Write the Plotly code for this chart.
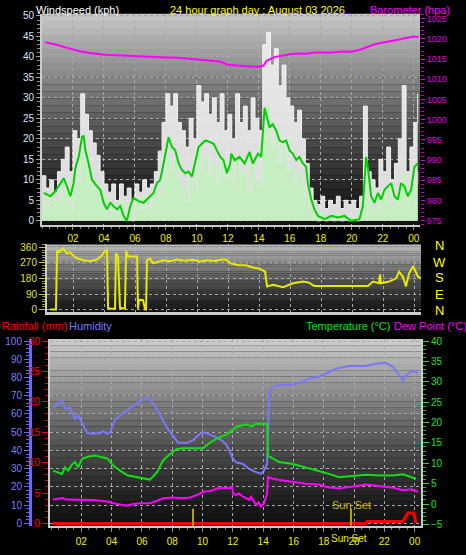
import plotly.graph_objects as go

FONT = "Liberation Sans, Arial, sans-serif"
W, H = 466, 555

# ---------------- data ----------------
hour_ticks = [2, 4, 6, 8, 10, 12, 14, 16, 18, 20, 22, 24]
hour_labels = ["02", "04", "06", "08", "10", "12", "14", "16", "18", "20", "22", "00"]

wind_t = [i * 0.25 for i in range(98)]  # sample times (hours)
gust_kph = [11, 8, 10, 7, 12, 15, 18, 12,
            22, 20, 31, 26, 22, 19, 16, 12,
            9, 7, 9, 5, 9, 6, 8, 5,
            9, 7, 10, 8, 9, 12, 17, 24,
            31, 28, 31, 24, 22, 18, 25, 20,
            33, 29, 31, 26, 30, 24, 31, 22,
            26, 20, 31, 24, 28, 22, 30, 25,
            22, 43, 46, 38, 42, 33, 38, 30,
            28, 24, 27, 20, 14, 8, 5, 4,
            6, 3, 5, 4, 6, 3, 5, 4,
            5, 3, 6, 28, 12, 10, 8, 15,
            12, 18, 10, 14, 20, 33, 12, 18,
            24, 31]
speed_kph = [6, 3, 7, 4, 5, 9, 7, 2,
             12, 9, 17, 14, 12, 8, 9, 5,
             6, 1, 4, 2, 5, 1, 4, 0,
             5, 3, 6, 3, 5, 7, 6, 10,
             15, 12, 15, 10, 8, 5, 10, 7,
             17, 12, 16, 11, 14, 9, 15, 10,
             13, 8, 15, 11, 12, 7, 14, 10,
             8, 20, 28, 18, 20, 14, 18, 12,
             13, 9, 12, 8, 6, 3, 1, 0,
             2, 0, 1, 0, 2, 0, 1, 0,
             1, 0, 2, 10, 5, 3, 2, 6,
             5, 8, 3, 6, 8, 11, 4, 7,
             9, 12]

avg_t = [0.11, 0.54, 0.86, 1.18, 1.40, 1.61, 1.83, 2.04, 2.15, 2.37, 2.58, 2.69, 2.80, 3.01,
         3.23, 3.55, 3.76, 3.98, 4.19, 4.41, 4.62, 4.84, 5.05, 5.27, 5.48, 5.70, 5.91, 6.24,
         6.56, 6.88, 7.20, 7.42, 7.63, 7.85, 8.06, 8.17, 8.39, 8.60, 8.82, 9.03, 9.25, 9.46,
         9.68, 9.89, 10.11, 10.32, 10.54, 10.86, 11.08, 11.29, 11.51, 11.72, 11.94, 12.15,
         12.22, 12.43, 12.75, 13.08, 13.40, 13.61, 13.94, 14.15, 14.37, 14.47, 14.69, 14.90,
         15.12, 15.33, 15.55, 15.76, 15.98, 16.19, 16.41, 16.62, 16.84, 17.05, 17.16, 17.38,
         17.59, 17.81, 18.24, 18.67, 19.10, 19.53, 19.96, 20.49, 20.71, 20.92, 21.03, 21.25,
         21.46, 21.68, 21.89, 22.11, 22.32, 22.54, 22.75, 22.97, 23.18, 23.40, 23.61, 23.83,
         24.04, 24.26]
avg_kph = [6.8, 6.0, 7.2, 9.2, 10.4, 8.4, 6.0, 9.2, 12.8, 15.6, 20.4, 20.8, 17.2, 14.0,
           10.0, 8.4, 7.6, 4.4, 2.8, 4.4, 3.6, 2.8, 3.6, 1.2, 0.0, 3.6, 5.6, 4.8,
           4.4, 5.6, 6.8, 9.2, 10.0, 14.0, 18.8, 20.4, 18.0, 17.2, 14.0, 12.4, 11.6, 12.0,
           10.8, 14.0, 18.0, 18.8, 19.6, 19.2, 18.8, 17.2, 15.6, 14.8, 11.6, 14.0,
           16.4, 14.8, 15.6, 14.0, 16.8, 14.0, 16.4, 15.6, 27.6, 26.0, 22.8, 23.6,
           22.0, 19.6, 19.2, 19.6, 17.2, 16.4, 14.8, 15.6, 14.0, 13.2, 9.2, 5.2,
           2.8, 1.2, 0.4, 1.2, 0.8, 1.2, 0.0, 0.4, 3.6, 15.6, 13.2, 6.0,
           4.4, 6.8, 5.2, 7.6, 8.4, 9.2, 6.0, 5.2, 9.2, 8.4, 6.0, 7.6,
           13.2, 14.0]

baro_t = [0.2, 0.5, 1.0, 1.5, 2.0, 2.5, 3.0, 3.5, 4.0, 4.5, 5.0, 5.5, 6.0, 6.5, 7.0, 7.5,
          8.0, 8.5, 9.0, 9.5, 10.0, 10.5, 11.0, 11.5, 12.0, 12.5, 13.0, 13.5, 14.0, 14.3,
          14.5, 15.0, 15.5, 16.0, 16.5, 17.0, 17.5, 18.0, 18.5, 19.0, 19.5, 20.0, 20.5,
          21.0, 21.5, 22.0, 22.5, 23.0, 23.5, 24.0, 24.3]
baro_hpa = [1019.2, 1019.0, 1018.5, 1017.9, 1017.4, 1016.9, 1016.6, 1016.3, 1016.1, 1016.0,
            1015.9, 1015.8, 1015.7, 1015.6, 1015.5, 1015.5, 1015.4, 1015.4, 1015.3, 1015.1,
            1014.9, 1014.7, 1014.6, 1014.4, 1013.6, 1013.4, 1013.3, 1013.2, 1013.1, 1013.4,
            1014.6, 1015.5, 1015.9, 1016.2, 1016.4, 1016.3, 1016.6, 1016.7, 1016.6, 1016.8,
            1016.9, 1016.8, 1017.3, 1018.0, 1018.7, 1019.1, 1019.4, 1019.8, 1020.2, 1020.6,
            1020.4]

dir_t = [0.52, 0.90, 0.97, 1.10, 1.35, 1.60, 1.80, 2.00, 2.26, 2.65, 3.10, 3.55, 3.87, 4.06,
         4.19, 4.26, 4.39, 4.71, 4.77, 4.90, 5.03, 5.35, 5.42, 5.55, 6.13, 6.19, 6.26, 6.52,
         6.65, 6.71, 6.77, 6.97, 7.16, 7.42, 7.80, 8.26, 8.70, 9.20, 9.74, 10.20, 10.70,
         11.16, 11.60, 11.87, 12.19, 12.70, 13.16, 13.60, 14.00, 14.39, 14.52, 14.90, 15.55,
         16.19, 16.84, 17.23, 17.55, 21.03, 21.35, 21.74, 21.81, 21.87, 22.39, 22.84, 23.03,
         23.29, 23.48, 23.68, 23.94, 24.26, 24.45]
dir_deg = [0, 0, 343, 333, 354, 326, 333, 314, 297, 286, 280, 290, 314, 339,
           343, 10, 5, 5, 326, 305, 10, 5, 339, 308, 308, 5, 57, 54,
           0, 0, 286, 297, 269, 274, 286, 280, 290, 283, 288, 278, 286,
           282, 290, 290, 267, 257, 257, 244, 238, 219, 133, 143, 130,
           152, 162, 156, 137, 137, 162, 152, 204, 152, 162, 181, 219,
           190, 133, 210, 251, 190, 181]

hum_t = [0.13, 0.46, 0.73, 0.92, 1.12, 1.25, 1.45, 1.58, 1.78, 2.05, 2.38, 2.77, 3.23, 3.43,
         3.70, 3.89, 4.22, 4.75, 5.35, 5.87, 6.40, 6.73, 7.19, 7.66, 8.05, 8.38, 8.98, 9.37,
         9.83, 10.17, 10.69, 11.16, 11.55, 11.75, 11.95, 12.21, 12.67, 13.07, 13.53, 13.86,
         14.06, 14.26, 14.32, 14.39, 14.52, 14.85, 15.97, 16.63, 17.03, 17.69, 18.15, 18.81,
         19.67, 20.79, 21.45, 22.11, 22.57, 22.90, 23.23, 23.43, 23.76, 24.09, 24.22]
hum_pct = [63.2, 66.0, 66.9, 63.0, 63.0, 63.5, 59.6, 56.9, 59.6, 55.0, 49.7, 49.2, 49.5, 50.5,
           49.2, 49.7, 56.9, 60.5, 64.1, 66.9, 69.0, 66.0, 59.6, 52.4, 48.0, 44.3, 44.3, 45.6,
           49.2, 49.7, 48.0, 46.1, 43.4, 40.5, 36.2, 33.5, 32.6, 29.9, 28.1, 27.2,
           29.0, 32.6, 48.8, 70.4, 74.0, 75.8, 76.2, 77.7, 79.5, 80.4, 82.2, 84.9,
           86.3, 86.3, 87.6, 88.1, 85.8, 82.2, 78.5, 81.2, 83.4, 83.0, 82.2]

temp_t = [0.13, 0.46, 0.73, 0.92, 1.12, 1.39, 1.58, 1.78, 2.05, 2.44, 2.90, 3.37, 3.76, 4.09,
          4.55, 5.08, 5.68, 6.07, 6.53, 7.00, 7.39, 7.85, 8.32, 8.71, 10.03, 10.50, 10.96,
          11.62, 12.21, 12.87, 13.27, 13.53, 14.26, 14.32, 14.65, 15.05, 15.97, 16.83, 17.69,
          18.35, 19.01, 19.93, 20.79, 21.65, 22.57, 23.23, 23.76, 24.09]
temp_c = [8.2, 7.8, 7.4, 9.0, 8.2, 9.7, 10.3, 9.0, 11.1, 11.6, 11.9, 11.5, 11.1, 9.5,
          8.2, 7.0, 6.6, 6.2, 6.0, 7.8, 10.7, 12.3, 13.5, 13.7, 13.7, 15.1, 16.1,
          17.1, 18.9, 19.5, 19.1, 19.7, 19.7, 11.9, 11.1, 10.3, 9.8, 9.0, 8.2,
          7.4, 6.6, 7.0, 7.2, 7.0, 7.0, 7.3, 6.6, 6.2]

dew_t = [0.13, 0.79, 0.99, 1.91, 2.77, 3.70, 4.36, 5.02, 5.41, 5.87, 6.53, 7.00, 7.39, 8.05,
         8.71, 9.17, 9.64, 10.03, 10.50, 10.96, 11.42, 11.82, 11.95, 12.01, 12.21, 12.40,
         12.67, 12.90, 13.07, 13.20, 13.40, 13.53, 13.70, 13.86, 14.06, 14.26, 14.32, 14.65,
         15.31, 15.97, 16.83, 17.69, 18.15, 19.01, 19.93, 20.79, 21.65, 22.57, 23.23, 23.76,
         24.22]
dew_c = [1.1, 1.5, 1.1, 1.1, 1.0, 0.6, 0.0, -0.4, 0.0, 0.2, 0.2, 0.8, 1.4, 1.6,
         1.4, 1.6, 2.2, 3.0, 3.2, 3.8, 4.0, 3.9, 4.4, 2.6, 2.2, 2.6,
         1.8, 1.4, 1.0, 1.8, 0.4, -0.2, 0.4, -0.6, 0.2, 2.6, 6.6, 6.2,
         5.8, 5.4, 5.0, 4.8, 4.2, 3.8, 4.4, 4.8, 4.4, 4.0, 3.4, 3.6,
         3.0]

rain_t = [0.1, 20.79, 20.85, 23.23, 23.55, 23.95, 24.1]
rain_mm = [0.0, 0.0, 0.3, 0.3, 1.7, 1.7, 0.0]

sun_marks_t = [9.37, 19.8]
sunset_t = 19.8

# ---------------- helpers ----------------
def fx(px):
    return px / W


def fy(py):
    return 1 - py / H


def bands(xref, yref, top, bottom, n=30, gamma=1.25):
    out = []
    for i in range(n):
        f = (i + 0.5) / n
        v = int(bottom + (top - bottom) * f ** gamma)
        out.append(dict(type="rect", xref=xref, yref=yref, x0=0, x1=1,
                        y0=i / n, y1=(i + 1) / n,
                        fillcolor=f"rgb({v},{v},{v})", line=dict(width=0),
                        layer="below"))
    return out


fig = go.Figure()

# top panel: wind + barometer
fig.add_trace(go.Scatter(x=wind_t, y=gust_kph, mode="lines", line=dict(color="rgba(245,245,245,0.95)", width=1, shape="hv"),
                         fill="tozeroy", fillcolor="rgba(238,238,238,0.92)", xaxis="x", yaxis="y"))
fig.add_trace(go.Scatter(x=wind_t, y=speed_kph, mode="lines", line=dict(color="rgba(200,245,195,0.95)", width=1, shape="hv"),
                         fill="tozeroy", fillcolor="rgba(195,240,190,0.85)", xaxis="x", yaxis="y"))
fig.add_trace(go.Scatter(x=avg_t, y=avg_kph, mode="lines", line=dict(color="#00d000", width=2),
                         xaxis="x", yaxis="y"))
fig.add_trace(go.Scatter(x=baro_t, y=baro_hpa, mode="lines", line=dict(color="#ff00ff", width=2),
                         xaxis="x", yaxis="y2"))

# middle: wind direction
fig.add_trace(go.Scatter(x=dir_t, y=dir_deg, mode="lines", line=dict(color="#e8e800", width=2),
                         xaxis="x2", yaxis="y3"))

# bottom panel
fig.add_trace(go.Scatter(x=hum_t, y=hum_pct, mode="lines", line=dict(color="#7878ff", width=2),
                         xaxis="x3", yaxis="y4"))
fig.add_trace(go.Scatter(x=rain_t, y=rain_mm, mode="lines", line=dict(color="#ff0000", width=3),
                         xaxis="x3", yaxis="y5"))
fig.add_trace(go.Scatter(x=temp_t, y=temp_c, mode="lines", line=dict(color="#10e010", width=2),
                         xaxis="x3", yaxis="y6"))
fig.add_trace(go.Scatter(x=dew_t, y=dew_c, mode="lines", line=dict(color="#ff00ff", width=2),
                         xaxis="x3", yaxis="y6"))

grid = dict(showgrid=True, gridcolor="#a8a8a8", griddash="dot", gridwidth=1)
tickfont_x = dict(family=FONT, size=10, color="#f0f000")
frame = "#cccccc"

shapes = []
shapes += bands("x domain", "y domain", 200, 18)
shapes += bands("x2 domain", "y3 domain", 190, 25)
shapes += bands("x3 domain", "y4 domain", 205, 15)
for t in sun_marks_t:
    shapes.append(dict(type="line", xref="x3", yref="paper", x0=t, x1=t,
                       y0=fy(530), y1=fy(512), line=dict(color="#b8a000", width=2)))

TS = 11
annotations = [
    dict(text="Windspeed (kph)", x=fx(34), y=fy(6), xanchor="left", font=dict(color="white", size=TS)),
    dict(text="24 hour graph day : August 03 2026", x=fx(257), y=fy(6), xanchor="center",
         font=dict(color="#ffff00", size=TS)),
    dict(text="Barometer (hpa)", x=fx(410), y=fy(6), xanchor="center", font=dict(color="#ff00ff", size=TS)),
    dict(text="Rainfall (mm)", x=fx(0), y=fy(327), xanchor="left", font=dict(color="#ff0000", size=TS)),
    dict(text="Humidity", x=fx(67), y=fy(327), xanchor="left", font=dict(color="#7878ff", size=TS)),
    dict(text="Temperature (°C)", x=fx(392), y=fy(327), xanchor="right", font=dict(color="#10e010", size=TS)),
    dict(text="Dew Point (°C)", x=fx(392), y=fy(327), xanchor="left", font=dict(color="#ff00ff", size=TS)),
]
for lab, py in zip(["N", "W", "S", "E", "N"], [245, 262, 278, 295, 311]):
    annotations.append(dict(text=lab, x=fx(439), y=fy(py), xanchor="center",
                            font=dict(color="#ffff00", size=13)))
annotations.append(dict(text="Sun Set", xref="x3", x=sunset_t, y=fy(508), xanchor="center",
                        font=dict(color="#c8b400", size=11)))
annotations.append(dict(text="Sun Set", xref="x3", x=sunset_t - 0.12, y=fy(542), xanchor="center",
                        font=dict(color="#f0f000", size=10)))
for a in annotations:
    a.setdefault("xref", "paper")
    a["yref"] = "paper"
    a["yanchor"] = "middle"
    a["showarrow"] = False
    a["font"]["family"] = FONT

fig.update_layout(
    width=W, height=H, autosize=False,
    margin=dict(l=0, r=0, t=0, b=0),
    paper_bgcolor="#000000", plot_bgcolor="#000000",
    showlegend=False, hovermode=False,
    font=dict(family=FONT, size=10, color="white"),
    shapes=shapes, annotations=annotations,
    xaxis=dict(domain=[fx(42), fx(420)], anchor="y", range=[0, 24.4], tickvals=hour_ticks, ticktext=hour_labels,
               tickfont=tickfont_x, ticks="outside", ticklen=3, tickcolor="#909090",
               minor=dict(ticks="outside", dtick=0.5, tick0=0, ticklen=2, tickcolor="#808080"),
               showline=True, linecolor=frame, linewidth=2, zeroline=False, **grid),
    yaxis=dict(domain=[fy(224), fy(10)], anchor="x", range=[-0.96, 50.5], dtick=5, tick0=0,
               tickfont=dict(family=FONT, size=10, color="#dbe6ff"), ticks="outside", ticklen=4,
               tickcolor="#a0a0a0", minor=dict(ticks="outside", dtick=1, ticklen=3, tickcolor="#909090"),
               showline=True, linecolor=frame, linewidth=2, zeroline=False, **grid),
    yaxis2=dict(overlaying="y", anchor="x", side="right", range=[974.0, 1026.2], dtick=5, tick0=975,
                tickfont=dict(family=FONT, size=9, color="#e000e0"), ticks="outside", ticklen=4,
                tickcolor="#e000e0", minor=dict(ticks="outside", dtick=1, ticklen=3, tickcolor="#c000c0"),
                showgrid=False, zeroline=False, showline=False),
    xaxis2=dict(domain=[fx(47), fx(421)], anchor="y3", range=[0.32, 24.45], tickvals=hour_ticks,
                showticklabels=False, ticks="", showline=True, linecolor=frame, linewidth=3,
                zeroline=False, **grid),
    yaxis3=dict(domain=[fy(312), fy(244)], anchor="x2", range=[-11.4, 377], tickvals=[0, 90, 180, 270, 360],
                tickfont=dict(family=FONT, size=10, color="#e0e030"), ticks="outside", ticklen=6,
                tickcolor="#c8c820", minor=dict(ticks="outside", dtick=15, ticklen=3, tickcolor="#a0a020"),
                showline=True, linecolor=frame, linewidth=2, zeroline=False, **grid),
    xaxis3=dict(domain=[fx(50), fx(421)], anchor="y4", range=[-0.07, 24.42], tickvals=hour_ticks,
                ticktext=hour_labels, tickfont=tickfont_x, ticks="outside", ticklen=4, tickcolor="#909090",
                ticklabelstandoff=1,
                minor=dict(ticks="outside", dtick=0.5, tick0=0, ticklen=2, tickcolor="#808080"),
                showline=True, linecolor=frame, linewidth=2, zeroline=False, **grid),
    yaxis4=dict(domain=[fy(530), fy(340)], anchor="free", position=fx(30), range=[-1.62, 101.08], dtick=10,
                tickfont=dict(family=FONT, size=10, color="#7c7cff"), ticks="outside", ticklen=5,
                tickcolor="#6868ff", minor=dict(ticks="outside", dtick=2, ticklen=3, tickcolor="#6868ff"),
                showline=True, linecolor="#6868ff", linewidth=3, zeroline=False, **grid),
    yaxis5=dict(overlaying="y4", anchor="x3", side="left", range=[-0.486, 30.32], dtick=5,
                tickfont=dict(family=FONT, size=10, color="#ff0000"), ticks="outside", ticklen=6,
                tickcolor="#ff0000", minor=dict(ticks="outside", dtick=1, ticklen=3, tickcolor="#e00000"),
                showgrid=False, zeroline=False, showline=True, linecolor=frame, linewidth=2),
    yaxis6=dict(overlaying="y4", anchor="x3", side="right", range=[-5.48, 40.48], dtick=5, tick0=0,
                tickfont=dict(family=FONT, size=10, color="#20e020"), ticks="outside", ticklen=6,
                tickcolor="#20e020", minor=dict(ticks="outside", dtick=1, ticklen=3, tickcolor="#18c018"),
                showgrid=False, zeroline=False, showline=True, linecolor=frame, linewidth=2),
)

fig.write_html("out.html",
               config={"displayModeBar": False},
               post_script="document.body.style.margin='0';document.body.style.overflow='hidden';")
